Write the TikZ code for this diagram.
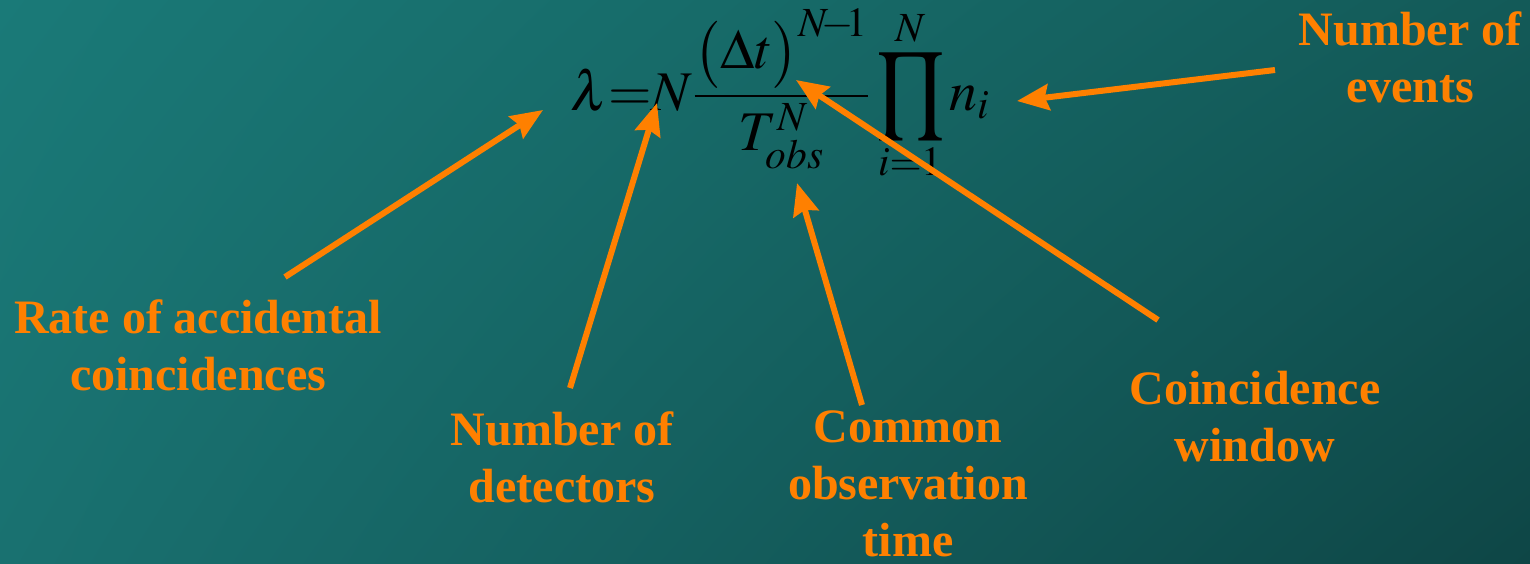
\documentclass[tikz,border=0pt]{standalone}
\usepackage{mathptmx}
\usepackage{graphicx}
\usepackage[no-math]{fontspec}
\setmainfont{Liberation Serif}
\usetikzlibrary{arrows.meta,shadings}
\definecolor{bgtl}{HTML}{1A7A78}
\definecolor{bgtr}{HTML}{135A58}
\definecolor{bgbl}{HTML}{197170}
\definecolor{bgbr}{HTML}{0E4646}
\definecolor{hilite}{HTML}{FF8000}
\newcommand{\bigprod}{\mathop{\vcenter{\hbox{\scalebox{1.0}[1.25]{$\displaystyle\prod$}}}}\limits}

\begin{document}
\begin{tikzpicture}[
    x=0.5pt, y=-0.5pt,
    note/.style={text=hilite,font=\fontsize{24}{28.5}\selectfont\bfseries,
      align=center,inner sep=0pt},
    pointer/.style={draw=hilite,line width=3pt,
      -{Stealth[length=16pt,width=13pt,inset=2pt]}}
  ]
    \shade[upper left=bgtl,upper right=bgtr,lower left=bgbl,lower right=bgbr]
      (0,0) rectangle (1530,563);
    \useasboundingbox (0,0) rectangle (1530,563);

    % the formula
    \node[inner sep=0pt,anchor=base west] (formula) at (570,110)
      {\fontsize{28}{32}\selectfont
       $\displaystyle\lambda{=}N\frac{\bigl(\Delta t\bigr)^{N\mkern-3mu{-}\mkern-3mu1}}{T_{obs}^{N}}\bigprod_{i=1}^{N}n_{i}$};

    % what the arrows point at
    \coordinate (lam) at (543,110);
    \coordinate (nn)  at (657,103);
    \coordinate (tt)  at (797,183);
    \coordinate (dt)  at (796,80);
    \coordinate (ni)  at (1017,101);

    \node[note] (rate)  at (198,345)  {Rate of accidental\\coincidences};
    \node[note] (ndet)  at (562,457)  {Number of\\detectors};
    \node[note] (tobs)  at (908,484)  {Common\\observation\\time};
    \node[note] (dtwin) at (1255,417) {Coincidence\\window};
    \node[note] (nev)   at (1410,57)  {Number of\\events};

    \coordinate (rate-s)  at (285,277);
    \coordinate (ndet-s)  at (570,388);
    \coordinate (tobs-s)  at (862,405);
    \coordinate (dtwin-s) at (1158,320);
    \coordinate (nev-s)   at (1275,70);

    \draw[pointer] (rate-s)  -- (lam);
    \draw[pointer] (ndet-s)  -- (nn);
    \draw[pointer] (tobs-s)  -- (tt);
    \draw[pointer] (dtwin-s) -- (dt);
    \draw[pointer] (nev-s)   -- (ni);
  \end{tikzpicture}
\end{document}
